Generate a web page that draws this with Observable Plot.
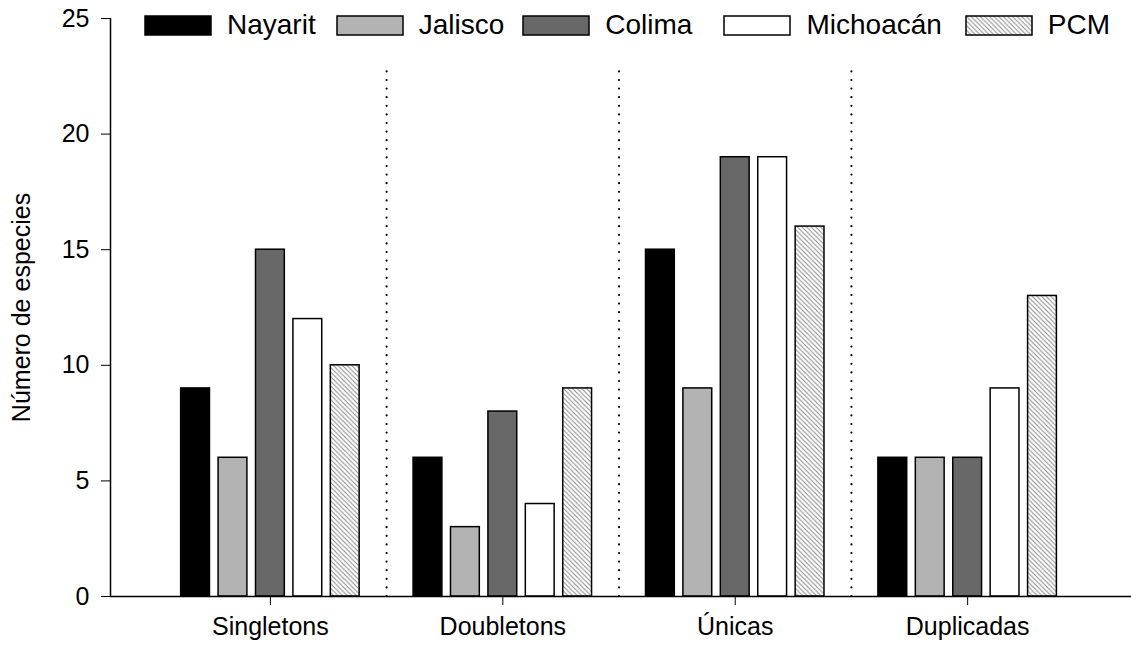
<!DOCTYPE html>
<html>
<head>
<meta charset="utf-8">
<script src="https://cdn.jsdelivr.net/npm/d3@7"></script>
<script src="https://cdn.jsdelivr.net/npm/@observablehq/plot@0.6"></script>
<style>
  body { margin: 0; background: #fff; }
  #chart { position: relative; width: 1131px; height: 648px; font-family: "Liberation Sans", Arial, sans-serif; }
  #legend { position: absolute; left: 145px; top: 9px; }
  .lg-swatches { font-family: "Liberation Sans", Arial, sans-serif !important; font-size: 28px !important; color: #000; margin: 0 !important; min-height: 0 !important; flex-wrap: nowrap !important; }
  .lg-swatch { margin-right: 0 !important; }
  .lg-swatch > svg { margin-right: 16px !important; overflow: visible; }
  .lg-swatch rect { stroke: #000; stroke-width: 1.5px; }
  .lg-swatch:nth-of-type(1) { margin-right: 21px !important; }
  .lg-swatch:nth-of-type(2) { margin-right: 19px !important; }
  .lg-swatch:nth-of-type(3) { margin-right: 32px !important; }
  .lg-swatch:nth-of-type(4) { margin-right: 24px !important; }
</style>
</head>
<body>
<svg width="0" height="0" style="position:absolute">
  <defs>
    <pattern id="hatch" patternUnits="userSpaceOnUse" width="4.6" height="4.6">
      <rect width="4.6" height="4.6" fill="#fff"></rect>
      <path d="M0,0L4.6,4.6M-1,3.6L1,5.6M3.6,-1L5.6,1" stroke="#8a8a8a" stroke-width="1"></path>
    </pattern>
  </defs>
</svg>
<div id="chart"><div id="legend"></div></div>
<script>
// Species counts per category and state
const groups = ["Singletons", "Doubletons", "Únicas", "Duplicadas"];
const states = ["Nayarit", "Jalisco", "Colima", "Michoacán", "PCM"];
const nayarit   = [9, 6, 15, 6];
const jalisco   = [6, 3, 9, 6];
const colima    = [15, 8, 19, 6];
const michoacan = [12, 4, 19, 9];
const pcm       = [10, 9, 16, 13];
const yTicks = [0, 5, 10, 15, 20, 25];

const stateFills = ["#000000", "#b3b3b3", "#686868", "#ffffff", "url(#hatch)"];
const series = [nayarit, jalisco, colima, michoacan, pcm];

const rows = groups.flatMap((group, gi) =>
  states.map((state, si) => ({group, state, gi, si, value: series[si][gi]}))
);

// Grouped layout on a continuous x: group i is centred at i
const barStep = 0.161;
const barWidth = 0.124;
const xDomain = [-0.688, 3.705];
const barCenter = d => d.gi + (d.si - (states.length - 1) / 2) * barStep;
const separators = groups.slice(1).map((g, i) => i + 0.5);

const plot = Plot.plot({
  width: 1131,
  height: 648,
  marginLeft: 110,
  marginRight: 0,
  marginTop: 18,
  marginBottom: 52,
  style: {fontFamily: "'Liberation Sans', Arial, sans-serif", fontSize: "25px", color: "#000", background: "#fff", overflow: "visible"},
  x: {domain: xDomain},
  y: {domain: [0, 25]},
  color: {domain: states, range: stateFills},
  marks: [
    Plot.ruleX(separators, {y1: 0, y2: 23, stroke: "#000", strokeWidth: 2.2, strokeDasharray: "0,8.6", strokeLinecap: "round"}),
    Plot.rect(rows, {
      x1: d => barCenter(d) - barWidth / 2,
      x2: d => barCenter(d) + barWidth / 2,
      y1: 0,
      y2: "value",
      fill: "state",
      stroke: "#000",
      strokeWidth: 1.5
    }),
    Plot.ruleY([0], {stroke: "#000", strokeWidth: 1.5}),
    Plot.ruleX([xDomain[0]], {y1: 0, y2: 25, stroke: "#000", strokeWidth: 1.5}),
    Plot.axisY({
      ticks: yTicks,
      tickSize: 9,
      tickPadding: 12,
      label: "Número de especies",
      labelAnchor: "center",
      labelOffset: 98,
      labelArrow: "none"
    }),
    Plot.axisX({
      ticks: d3.range(groups.length),
      tickFormat: i => groups[i],
      tickSize: 9,
      tickPadding: 12,
      label: null
    })
  ]
});

document.getElementById("chart").appendChild(plot);

const legend = plot.legend("color", {
  legend: "swatches",
  swatchWidth: 66,
  swatchHeight: 19,
  className: "lg"
});
document.getElementById("legend").appendChild(legend);
</script>
</body>
</html>
